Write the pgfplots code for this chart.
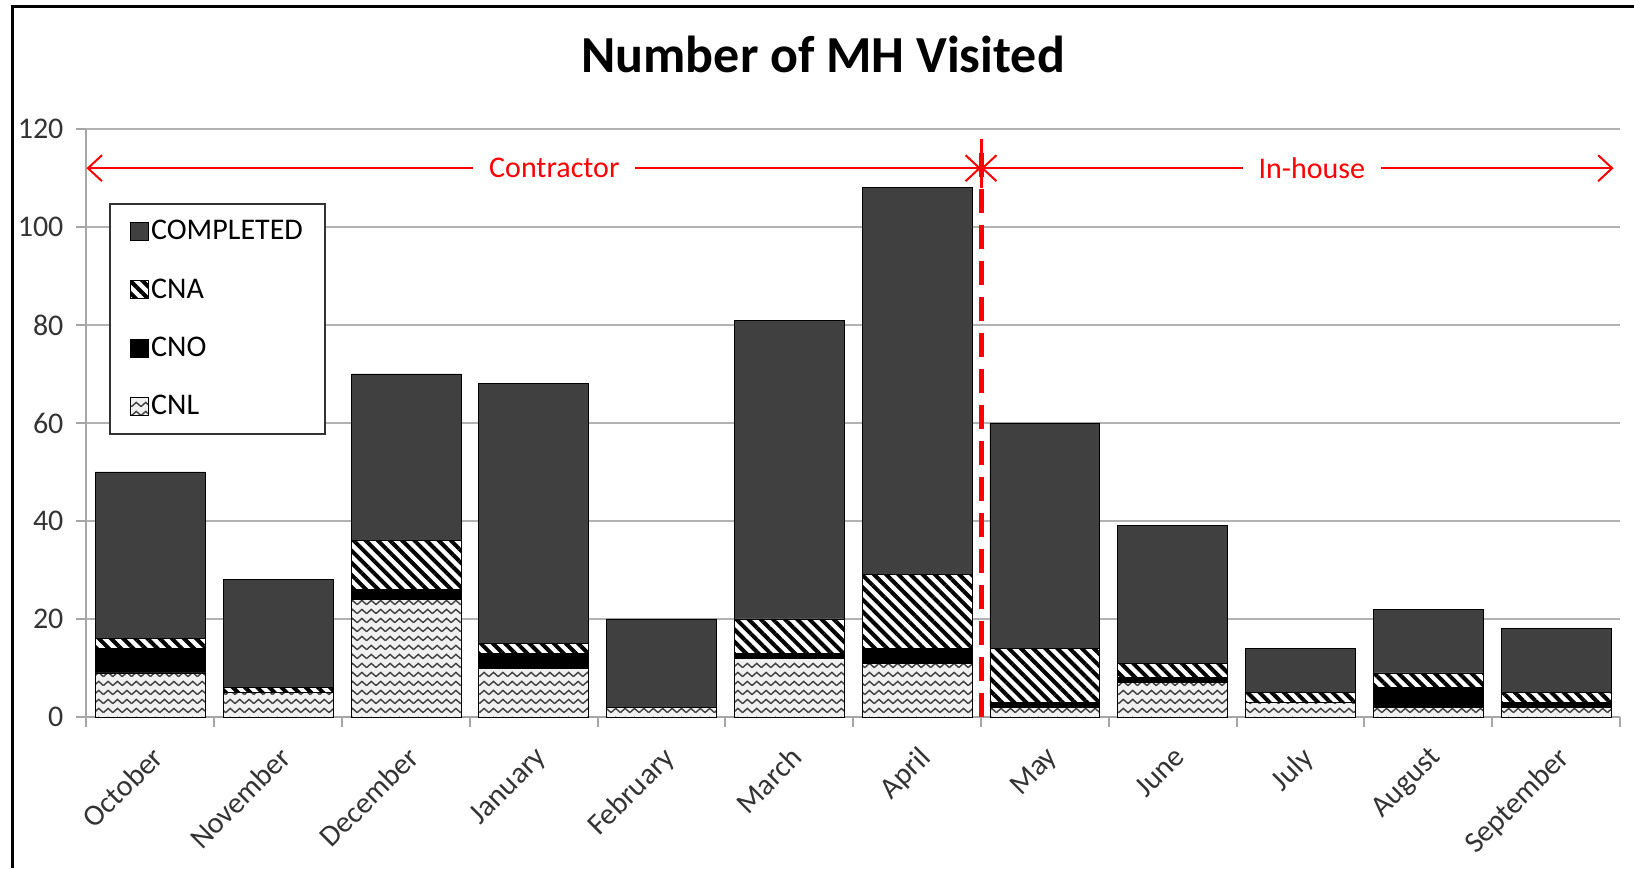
\documentclass[border=0pt]{standalone}
\usepackage{fontspec}
\setmainfont{Carlito}
\usepackage{pgfplots}
\pgfplotsset{compat=1.18}
\usepackage{pgfplotstable}
\usetikzlibrary{patterns,patterns.meta,arrows.meta}

\pgfdeclarepattern{
  name=zigzag,
  type=uncolored,
  bottom left={\pgfpoint{-0.5pt}{-0.5pt}},
  top right={\pgfpoint{5.2pt}{5pt}},
  tile size={\pgfpoint{4.7pt}{4.5pt}},
  code={
    \pgfsetlinewidth{0.7pt}
    \pgfpathmoveto{\pgfpoint{0pt}{1.2pt}}
    \pgfpathlineto{\pgfpoint{2.35pt}{3.3pt}}
    \pgfpathlineto{\pgfpoint{4.7pt}{1.2pt}}
    \pgfusepath{stroke}
  }
}

\pgfplotstableread{
x CNL CNO CNA COMP
1 9 5 2 34
2 5 0 1 22
3 24 2 10 34
4 10 3 2 53
5 2 0 0 18
6 12 1 7 61
7 11 3 15 79
8 2 1 11 46
9 7 1 3 28
10 3 0 2 9
11 2 4 3 13
12 2 1 2 13
}\data

\begin{document}
\begin{tikzpicture}[x=1pt,y=1pt]
\path[use as bounding box] (0,0) rectangle (817,434);
\draw[line width=1.5pt] (6.25,0) -- (6.25,430.5) -- (817,430.5);
\node[font=\bfseries\fontsize{26}{30}\selectfont] at (411.6,407) {Number of MH Visited};
\begin{axis}[
  at={(43.25pt,75.5pt)}, anchor=south west,
  scale only axis, width=766.75pt, height=294pt,
  xmin=0.5, xmax=12.5, ymin=0, ymax=120,
  ybar stacked, bar width=0.86,
  clip=false,
  axis x line*=bottom, axis y line*=left,
  axis line style={gray!70, line width=1pt},
  xtick={1,...,12},
  xticklabels={October,November,December,January,February,March,April,May,June,July,August,September},
  minor xtick={0.5,1.5,...,12.5},
  ytick={0,20,...,120},
  major tick length=5pt, minor tick length=5pt,
  tick align=outside,
  tick style={gray!70, line width=1pt},
  major x tick style={draw=none},
  ymajorgrids=true,
  grid style={gray!60, line width=1pt},
  /pgf/number format/assume math mode=true,
  xticklabel style={yshift=-4pt, rotate=45, anchor=north east, font=\fontsize{15}{18}\selectfont, text=black!80},
  yticklabel style={font=\fontsize{15}{18}\selectfont, text=black!80, xshift=-3pt},
  legend style={at={(0.0149,0.874)}, anchor=north west, draw=black!80, line width=1pt,
    inner xsep=10pt, inner ysep=7pt, row sep=16pt,
    font=\fontsize{15}{18}\selectfont, nodes={inner sep=1pt}},
  legend cell align=left,
  reverse legend,
  legend image code/.code={\draw[#1, line width=0.4pt] (0pt,-4.5pt) rectangle (9pt,4.5pt);},
]
\addplot[draw=black, line width=0.4pt, preaction={fill=gray!12}, pattern=zigzag, pattern color=black!75] table[x=x,y=CNL]{\data};
\addplot[draw=black, line width=0.4pt, fill=black] table[x=x,y=CNO]{\data};
\addplot[draw=black, line width=0.4pt, preaction={fill=white}, pattern={Lines[angle=-45,distance=4.3pt,line width=2pt]}, pattern color=black] table[x=x,y=CNA]{\data};
\addplot[draw=black, line width=0.4pt, fill=black!75] table[x=x,y=COMP]{\data};
\legend{CNL,CNO,CNA,COMPLETED}

\draw[red, line width=2.5pt, dash pattern=on 12pt off 6pt] (axis cs:7.5,0) -- (axis cs:7.5,117);
\draw[red, line width=1.5pt] (axis cs:7.5,108) -- (axis cs:7.5,118);
\draw[red, line width=1pt, {Straight Barb[length=7pt,width=13pt]}-{Straight Barb[length=7pt,width=13pt]}]
  (axis cs:0.5,112) -- node[pos=0.523, fill=white, text=red, inner xsep=8pt, font=\fontsize{15}{18}\selectfont] {Contractor} (axis cs:7.5,112);
\draw[red, line width=1pt, {Straight Barb[length=7pt,width=13pt]}-{Straight Barb[length=7pt,width=13pt]}]
  (axis cs:7.5,112) -- node[pos=0.523, fill=white, text=red, inner xsep=8pt, font=\fontsize{15}{18}\selectfont] {In-house} (axis cs:12.45,112);
\end{axis}
\end{tikzpicture}
\end{document}
